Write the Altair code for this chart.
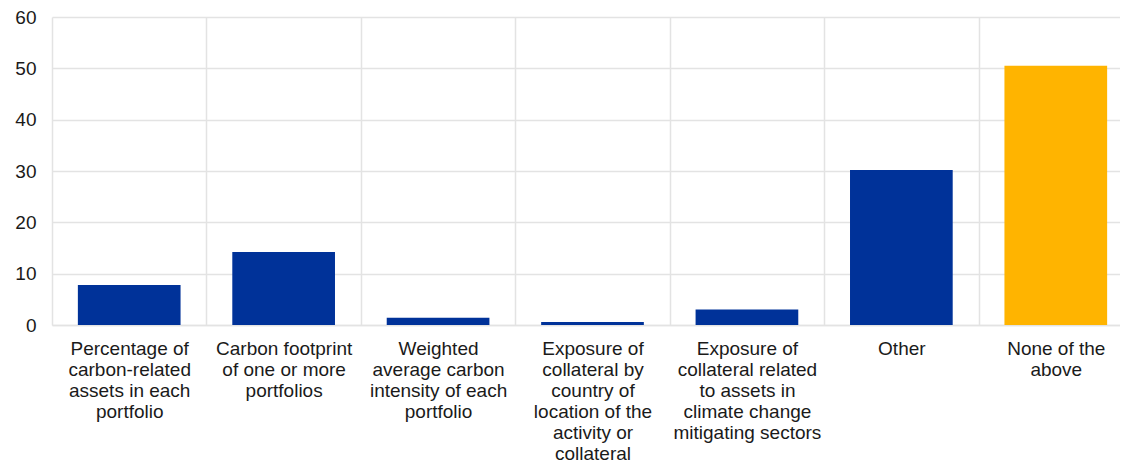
import altair as alt
import pandas as pd

categories = [
    "Percentage of|carbon-related|assets in each|portfolio",
    "Carbon footprint|of one or more|portfolios",
    "Weighted|average carbon|intensity of each|portfolio",
    "Exposure of|collateral by|country of|location of the|activity or|collateral",
    "Exposure of|collateral related|to assets in|climate change|mitigating sectors",
    "Other",
    "None of the|above",
]
values = [7.8, 14.2, 1.4, 0.6, 3.0, 30.2, 50.5]
groups = ["a", "a", "a", "a", "a", "a", "b"]
group_colors = ["#003299", "#FFB400"]

df = pd.DataFrame({"cat": categories, "val": values, "grp": groups})

chart = alt.Chart(df).mark_bar(width=alt.RelativeBandSize(0.665)).encode(
    x=alt.X(
        "cat:N",
        sort=categories,
        scale=alt.Scale(paddingInner=0, paddingOuter=0, range=[0, 1081]),
        axis=alt.Axis(
            title=None,
            labelAngle=0,
            labelExpr="split(datum.label, '|')",
            labelFont="Liberation Sans",
            labelFontSize=19,
            labelLineHeight=21,
            labelColor="#1a1a1a",
            labelPadding=14,
            labelBaseline="top",
            ticks=False,
            tickBand="extent",
            grid=True,
            gridColor="#e3e3e3",
            gridWidth=1.5,
            domain=True,
            domainColor="#e3e3e3",
            domainWidth=1.5,
        ),
    ),
    y=alt.Y(
        "val:Q",
        scale=alt.Scale(domain=[0, 60]),
        axis=alt.Axis(
            title=None,
            values=[0, 10, 20, 30, 40, 50, 60],
            labelFont="Liberation Sans",
            labelFontSize=19,
            labelColor="#1a1a1a",
            labelPadding=16,
            ticks=False,
            domain=False,
            grid=True,
            gridColor="#e3e3e3",
            gridWidth=1.5,
        ),
    ),
    color=alt.Color(
        "grp:N",
        scale=alt.Scale(domain=["a", "b"], range=group_colors),
        legend=None,
    ),
).properties(
    width=1068,
    height=308,
    autosize=alt.AutoSizeParams(type="none"),
    padding={"left": 44, "top": 9, "right": 0, "bottom": 140},
).configure_view(stroke=None)

chart.save("out.html", embed_options={"renderer": "svg", "actions": False})
